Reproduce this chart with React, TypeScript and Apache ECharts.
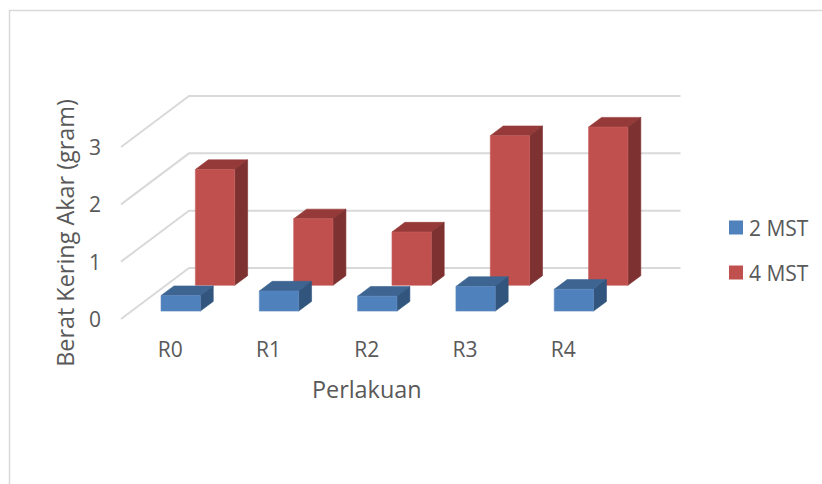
import React, { useEffect, useRef } from "react";
import * as echarts from "echarts";

const categories = ["R0", "R1", "R2", "R3", "R4"];
const yTicks = [0, 1, 2, 3];
const values2Mst = [0.27, 0.35, 0.26, 0.43, 0.38];
const values4Mst = [2.02, 1.16, 0.93, 2.61, 2.76];
const seriesNames = ["2 MST", "4 MST"];

// Oblique projection of the chart's depth axis, in pixels.
const DEPTH_X = 68;
const DEPTH_Y = -51;
const BAR_WIDTH_RATIO = 0.4;
const BAR_DEPTH = 0.19;
const FONT = "'Open Sans', sans-serif";
const TEXT = "#595959";
const GRID = "#d9d9d9";

type Palette = { front: string; top: string; side: string; edge: string };
const BLUE: Palette = { front: "#4f81bd", top: "#3e6592", side: "#32557e", edge: "#6089c0" };
const RED: Palette = { front: "#c0504d", top: "#953a38", side: "#7d3130", edge: "#c8625f" };

// Draws a bar as three projected faces, placed on the floor at the given depth fraction.
function prismRenderer(palette: Palette, depthStart: number) {
  return (_params: any, api: any) => {
    const category = api.value(0);
    const band = api.size([1, 0])[0];
    const base = api.coord([category, 0]);
    const top = api.coord([category, api.value(1)]);
    const w = band * BAR_WIDTH_RATIO;
    const ox = depthStart * DEPTH_X;
    const oy = depthStart * DEPTH_Y;
    const x0 = base[0] - w / 2 + ox;
    const x1 = x0 + w;
    const yb = base[1] + oy;
    const yt = top[1] + oy;
    const dx = BAR_DEPTH * DEPTH_X;
    const dy = BAR_DEPTH * DEPTH_Y;
    const face = (points: number[][], fill: string, stroke: string) => ({
      type: "polygon",
      shape: { points },
      style: { fill, stroke, lineWidth: 0.6 },
    });
    return {
      type: "group",
      children: [
        face([[x0, yt], [x1, yt], [x1 + dx, yt + dy], [x0 + dx, yt + dy]], palette.top, palette.top),
        face([[x1, yb], [x1, yt], [x1 + dx, yt + dy], [x1 + dx, yb + dy]], palette.side, palette.side),
        face([[x0, yb], [x1, yb], [x1, yt], [x0, yt]], palette.front, palette.edge),
      ],
    };
  };
}

// Side-wall diagonal and back-wall line for one value tick.
function wallRenderer(_params: any, api: any) {
  const band = api.size([1, 0])[0];
  const p = api.coord([0, api.value(1)]);
  const left = p[0] - band / 2;
  return {
    type: "polyline",
    shape: {
      points: [
        [left, p[1]],
        [left + DEPTH_X, p[1] + DEPTH_Y],
        [left + DEPTH_X + band * categories.length, p[1] + DEPTH_Y],
      ],
    },
    style: { stroke: GRID, lineWidth: 2, fill: "none" },
  };
}

export default function App() {
  const ref = useRef<HTMLDivElement>(null);

  useEffect(() => {
    const chart = echarts.init(ref.current!, undefined, { renderer: "svg" });
    chart.setOption({
      animation: false,
      backgroundColor: "#ffffff",
      graphic: [
        {
          type: "polyline",
          silent: true,
          shape: { points: [[9.5, 484], [9.5, 10.5], [822, 10.5]] },
          style: { stroke: GRID, lineWidth: 1.5, fill: "none" },
        },
      ],
      legend: {
        orient: "vertical",
        left: 724,
        top: 212,
        itemWidth: 14,
        itemHeight: 14,
        itemGap: 24,
        selectedMode: false,
        textStyle: { color: TEXT, fontFamily: FONT, fontSize: 21, padding: [0, 0, 0, 1] },
        data: [
          { name: seriesNames[0], icon: "rect", itemStyle: { color: BLUE.front } },
          { name: seriesNames[1], icon: "rect", itemStyle: { color: RED.front } },
        ],
      },
      grid: { left: 121, top: 147, width: 491.5, height: 172 },
      xAxis: {
        type: "category",
        data: categories,
        name: "Perlakuan",
        nameLocation: "middle",
        nameGap: 58,
        nameTextStyle: { color: TEXT, fontFamily: FONT, fontSize: 23.4 },
        axisLine: { show: false },
        axisTick: { show: false },
        axisLabel: { color: TEXT, fontFamily: FONT, fontSize: 21, margin: 19 },
      },
      yAxis: {
        type: "value",
        min: 0,
        max: 3,
        interval: 1,
        name: "Berat Kering Akar (gram)",
        nameLocation: "middle",
        nameRotate: 90,
        nameGap: 45,
        nameTextStyle: { color: TEXT, fontFamily: FONT, fontSize: 23.4 },
        axisLine: { show: false },
        axisTick: { show: false },
        splitLine: { show: false },
        axisLabel: { color: TEXT, fontFamily: FONT, fontSize: 21, margin: 20 },
      },
      series: [
        {
          type: "custom",
          name: "walls",
          silent: true,
          z: 1,
          clip: false,
          data: yTicks.map((t) => [0, t]),
          renderItem: wallRenderer,
        },
        {
          type: "custom",
          name: seriesNames[1],
          z: 2,
          clip: false,
          data: values4Mst.map((v, i) => [i, v]),
          itemStyle: { color: RED.front },
          renderItem: prismRenderer(RED, 0.66),
        },
        {
          type: "custom",
          name: seriesNames[0],
          z: 3,
          clip: false,
          data: values2Mst.map((v, i) => [i, v]),
          itemStyle: { color: BLUE.front },
          renderItem: prismRenderer(BLUE, 0.155),
        },
      ],
    });
    return () => chart.dispose();
  }, []);

  return (
    <div
      ref={ref}
      style={{ position: "absolute", left: 0, top: 0, width: 822, height: 484 }}
    />
  );
}
